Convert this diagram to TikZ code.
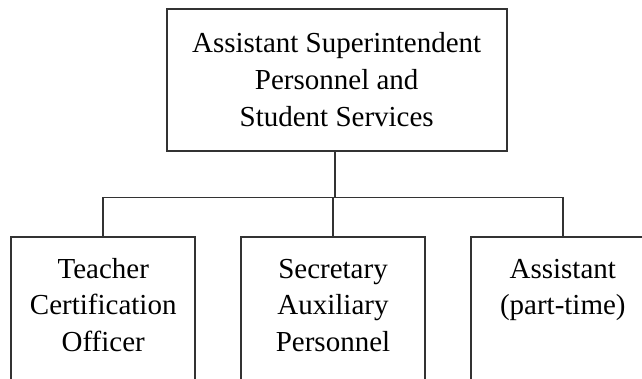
\documentclass[tikz,border=0pt]{standalone}
\usepackage{fontspec}
\setmainfont{Liberation Serif}
\usepackage{xcolor}
\definecolor{boxline}{RGB}{51, 51, 51}
\usepackage{tikz}
\usetikzlibrary{positioning}

% lines hang from the first baseline, so the box top stays put
\newcommand{\stafftext}[1]{\begin{tabular}[t]{@{}c@{}}#1\end{tabular}}

\begin{document}
\begin{tikzpicture}[
    x=1pt, y=1pt,
    node distance=44pt,
    headbox/.style={rectangle, draw=boxline, line width=1.8pt, minimum width=340pt, minimum height=141.7pt, inner sep=0pt, align=center, font=\fontsize{29}{37}\selectfont},
    staffbox/.style={rectangle, draw=boxline, line width=1.8pt, minimum width=184pt, inner xsep=0pt, inner ysep=21.7pt, text height=20pt, text depth=135pt, font=\fontsize{29}{36.5}\selectfont},
    link/.style={draw=boxline, line width=1.8pt}
]
\clip (0,0) rectangle (642,378);
\fill[white] (0,0) rectangle (642,378);

\node[headbox] (super) at (336.7,298.2) {Assistant Superintendent\\Personnel and\\Student Services};

\node[staffbox, below=84.3pt of super, xshift=-3.7pt] (secr) {\stafftext{Secretary\\Auxiliary\\Personnel}};
\node[staffbox, left=of secr] (teacher) {\stafftext{Teacher\\Certification\\Officer}};
\node[staffbox, right=of secr] (assist) {\stafftext{Assistant\\(part-time)}};

% branch line
\coordinate[below=46pt of super.south, xshift=-1.7pt] (bus);
\draw[link] ([xshift=-1.7pt]super.south) -- (bus);
\draw[link] (teacher.north) |- (bus) -| (assist.north);
\draw[link] (secr.north |- bus) -- (secr.north);

\end{tikzpicture}
\end{document}
